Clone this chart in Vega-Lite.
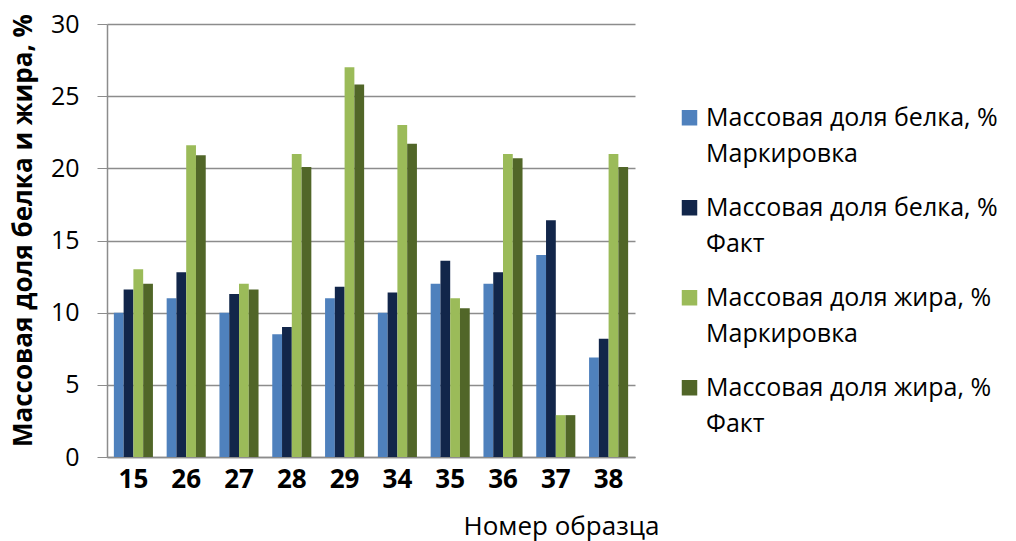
{
  "$schema": "https://vega.github.io/schema/vega-lite/v6.json",
  "width": 528,
  "height": 433,
  "autosize": {"type": "none"},
  "padding": {"left": 107, "top": 24, "right": 381, "bottom": 84},
  "background": "white",
  "config": {
    "font": "Open Sans",
    "view": {"stroke": null},
    "axis": {"labelColor": "black", "titleColor": "black"},
    "style": {"guide-label": {"lineHeight": 36}}
  },
  "data": {
    "values": [
      {"sample": "15", "series": "Массовая доля белка, % Маркировка", "value": 10.0},
      {"sample": "15", "series": "Массовая доля белка, % Факт", "value": 11.6},
      {"sample": "15", "series": "Массовая доля жира, % Маркировка", "value": 13.0},
      {"sample": "15", "series": "Массовая доля жира, % Факт", "value": 12.0},
      {"sample": "26", "series": "Массовая доля белка, % Маркировка", "value": 11.0},
      {"sample": "26", "series": "Массовая доля белка, % Факт", "value": 12.8},
      {"sample": "26", "series": "Массовая доля жира, % Маркировка", "value": 21.6},
      {"sample": "26", "series": "Массовая доля жира, % Факт", "value": 20.9},
      {"sample": "27", "series": "Массовая доля белка, % Маркировка", "value": 10.0},
      {"sample": "27", "series": "Массовая доля белка, % Факт", "value": 11.3},
      {"sample": "27", "series": "Массовая доля жира, % Маркировка", "value": 12.0},
      {"sample": "27", "series": "Массовая доля жира, % Факт", "value": 11.6},
      {"sample": "28", "series": "Массовая доля белка, % Маркировка", "value": 8.5},
      {"sample": "28", "series": "Массовая доля белка, % Факт", "value": 9.0},
      {"sample": "28", "series": "Массовая доля жира, % Маркировка", "value": 21.0},
      {"sample": "28", "series": "Массовая доля жира, % Факт", "value": 20.1},
      {"sample": "29", "series": "Массовая доля белка, % Маркировка", "value": 11.0},
      {"sample": "29", "series": "Массовая доля белка, % Факт", "value": 11.8},
      {"sample": "29", "series": "Массовая доля жира, % Маркировка", "value": 27.0},
      {"sample": "29", "series": "Массовая доля жира, % Факт", "value": 25.8},
      {"sample": "34", "series": "Массовая доля белка, % Маркировка", "value": 10.0},
      {"sample": "34", "series": "Массовая доля белка, % Факт", "value": 11.4},
      {"sample": "34", "series": "Массовая доля жира, % Маркировка", "value": 23.0},
      {"sample": "34", "series": "Массовая доля жира, % Факт", "value": 21.7},
      {"sample": "35", "series": "Массовая доля белка, % Маркировка", "value": 12.0},
      {"sample": "35", "series": "Массовая доля белка, % Факт", "value": 13.6},
      {"sample": "35", "series": "Массовая доля жира, % Маркировка", "value": 11.0},
      {"sample": "35", "series": "Массовая доля жира, % Факт", "value": 10.3},
      {"sample": "36", "series": "Массовая доля белка, % Маркировка", "value": 12.0},
      {"sample": "36", "series": "Массовая доля белка, % Факт", "value": 12.8},
      {"sample": "36", "series": "Массовая доля жира, % Маркировка", "value": 21.0},
      {"sample": "36", "series": "Массовая доля жира, % Факт", "value": 20.7},
      {"sample": "37", "series": "Массовая доля белка, % Маркировка", "value": 14.0},
      {"sample": "37", "series": "Массовая доля белка, % Факт", "value": 16.4},
      {"sample": "37", "series": "Массовая доля жира, % Маркировка", "value": 2.9},
      {"sample": "37", "series": "Массовая доля жира, % Факт", "value": 2.9},
      {"sample": "38", "series": "Массовая доля белка, % Маркировка", "value": 6.9},
      {"sample": "38", "series": "Массовая доля белка, % Факт", "value": 8.2},
      {"sample": "38", "series": "Массовая доля жира, % Маркировка", "value": 21.0},
      {"sample": "38", "series": "Массовая доля жира, % Факт", "value": 20.1}
    ]
  },
  "mark": {"type": "bar"},
  "encoding": {
    "x": {
      "field": "sample",
      "type": "nominal",
      "sort": null,
      "scale": {"paddingInner": 0.26, "paddingOuter": 0.13},
      "axis": {
        "title": "Номер образца",
        "titleFontSize": 26,
        "titleFontWeight": "normal",
        "titleX": 454,
        "titleY": 69,
        "titleBaseline": "middle",
        "titleAnchor": "middle",
        "labelAngle": 0,
        "labelFontSize": 26,
        "labelFontWeight": "bold",
        "labelPadding": 9,
        "ticks": false,
        "domainColor": "#8c8c8c",
        "domainWidth": 1.5
      }
    },
    "xOffset": {"field": "series", "type": "nominal", "sort": null},
    "y": {
      "field": "value",
      "type": "quantitative",
      "scale": {"domain": [0, 30]},
      "axis": {
        "title": "Массовая доля белка и жира, %",
        "titleFontSize": 26,
        "titleFontWeight": "bold",
        "titlePadding": 14,
        "titleY": 206,
        "values": [0, 5, 10, 15, 20, 25, 30],
        "labelFontSize": 25,
        "labelPadding": 18,
        "tickSize": 10,
        "tickColor": "#8c8c8c",
        "domainColor": "#8c8c8c",
        "domainWidth": 1.5,
        "gridColor": "#8c8c8c",
        "gridWidth": 1.5,
        "gridOpacity": 1
      }
    },
    "color": {
      "field": "series",
      "type": "nominal",
      "sort": null,
      "scale": {"range": ["#4f81bd", "#12264a", "#9bbb59", "#516628"]},
      "legend": {
        "title": null,
        "orient": "none",
        "legendX": 570,
        "legendY": 89,
        "symbolType": "M-1,-2H1V0H-1Z",
        "symbolSize": 240,
        "symbolStrokeWidth": 0,
        "labelFontSize": 25,
        "labelLimit": 400,
        "labelBaseline": "alphabetic",
        "labelOffset": 4,
        "labelExpr": "[slice(datum.label, 0, indexof(datum.label, '%') + 1), slice(datum.label, indexof(datum.label, '%') + 2)]",
        "rowPadding": 28
      }
    }
  }
}
